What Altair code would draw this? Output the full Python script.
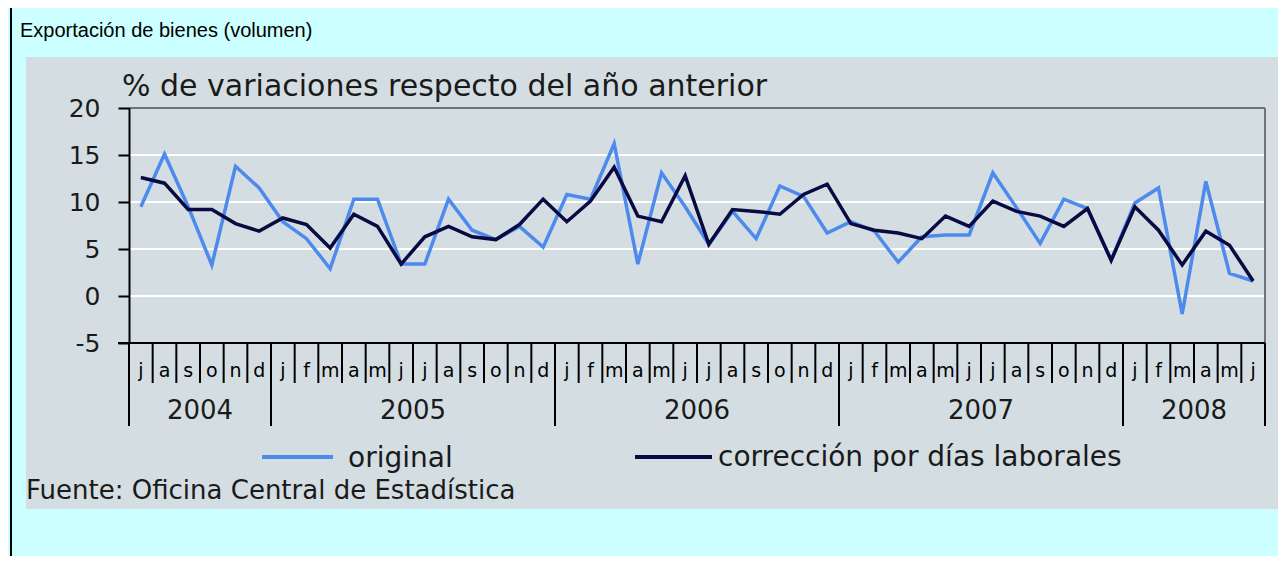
import altair as alt
import pandas as pd

# ---------------- data ----------------
months = list("jasond") + list("jfmamjjasond") * 3 + list("jfmamj")
years = ["2004", "2005", "2006", "2007", "2008"]
year_start = [0, 6, 18, 30, 42]
year_end = [6, 18, 30, 42, 48]

original = [9.5, 15.1, 9.5, 3.3, 13.8, 11.5,
            7.9, 6.1, 2.9, 10.3, 10.3, 3.4, 3.4, 10.3, 7.0, 6.0, 7.4, 5.2,
            10.8, 10.3, 16.2, 3.4, 13.1, 9.5, 5.5, 9.0, 6.1, 11.7, 10.6, 6.7,
            7.9, 6.9, 3.6, 6.3, 6.5, 6.5, 13.1, 9.4, 5.6, 10.3, 9.3, 3.8,
            9.9, 11.5, -1.9, 12.2, 2.4, 1.6]
corrected = [12.6, 12.0, 9.2, 9.2, 7.7, 6.9,
             8.3, 7.6, 5.1, 8.7, 7.4, 3.4, 6.3, 7.4, 6.3, 6.0, 7.6, 10.3,
             7.9, 10.1, 13.7, 8.5, 7.9, 12.8, 5.5, 9.2, 9.0, 8.7, 10.8, 11.9,
             7.7, 7.0, 6.7, 6.1, 8.5, 7.4, 10.1, 9.0, 8.5, 7.4, 9.3, 3.8,
             9.5, 7.0, 3.3, 6.9, 5.4, 1.6]

y_ticks = [-5, 0, 5, 10, 15, 20]
grid_vals = [0, 5, 10, 15]

title_text = "Exportación de bienes (volumen)"
ytitle_text = "% de variaciones respecto del año anterior"
legend_names = ["original", "corrección por días laborales"]
source_text = "Fuente: Oficina Central de Estadística"

# ---------------- styling ----------------
W, H = 1136, 235
FONT = "DejaVu Sans"
CYAN = "#CCFFFF"
PANEL = "#D4DEE2"
C_ORIG = "#4D8AEE"
C_CORR = "#0A0A42"
TXT = "#1a1a1a"

n = len(months)
series_df = pd.DataFrame({
    "pos": [i + 0.5 for i in range(n)],
    "original": original,
    "corr": corrected,
})
month_df = pd.DataFrame({"pos": [i + 0.5 for i in range(n)], "m": months})
sep_df = pd.DataFrame({"b": list(range(n + 1))})
ysep_df = pd.DataFrame({"b": year_start + [year_end[-1]]})
year_df = pd.DataFrame({"pos": [(s + e) / 2 for s, e in zip(year_start, year_end)], "y": years})
grid_df = pd.DataFrame({"v": grid_vals})
one = pd.DataFrame({"k": [0]})

xs = alt.Scale(domain=[0, 48], nice=False, zero=False)
ys = alt.Scale(domain=[-5, 20], nice=False, zero=False)
yaxis = alt.Axis(values=y_ticks, title=None, grid=False, domainColor="black",
                 domainWidth=2, tickColor="black", tickWidth=2, tickSize=11,
                 labelFont=FONT, labelFontSize=25, labelColor=TXT,
                 labelPadding=18, zindex=1, labelExpr="datum.value + ''")

panel = alt.Chart(one).mark_rect(color=PANEL).encode(
    x=alt.value(-103), x2=alt.value(W + 40), y=alt.value(-51), y2=alt.value(401))

left_border = alt.Chart(one).mark_rule(color="black", strokeWidth=2).encode(
    x=alt.value(-118), y=alt.value(-100), y2=alt.value(H + 213))

grid = alt.Chart(grid_df).mark_rule(color="white", strokeWidth=2).encode(
    y=alt.Y("v:Q", scale=ys, axis=yaxis), x=alt.value(0), x2=alt.value(W))

frame_top = alt.Chart(one).mark_rule(color="#6b7378", strokeWidth=2).encode(
    x=alt.value(0), x2=alt.value(W), y=alt.value(0))
frame_right = alt.Chart(one).mark_rule(color="#6b7378", strokeWidth=2).encode(
    x=alt.value(W), y=alt.value(0), y2=alt.value(H))

line_o = alt.Chart(series_df).mark_line(color=C_ORIG, strokeWidth=3.5).encode(
    x=alt.X("pos:Q", scale=xs, axis=None),
    y=alt.Y("original:Q", scale=ys, axis=yaxis))
line_c = alt.Chart(series_df).mark_line(color=C_CORR, strokeWidth=3.5).encode(
    x=alt.X("pos:Q", scale=xs, axis=None),
    y=alt.Y("corr:Q", scale=ys, axis=yaxis))

bottom_axis = alt.Chart(one).mark_rule(color="black", strokeWidth=2).encode(
    x=alt.value(-11), x2=alt.value(W), y=alt.value(H))

msep = alt.Chart(sep_df).mark_rule(color="black", strokeWidth=2).encode(
    x=alt.X("b:Q", scale=xs, axis=None), y=alt.value(H), y2=alt.value(H + 40))
ysep = alt.Chart(ysep_df).mark_rule(color="black", strokeWidth=2).encode(
    x=alt.X("b:Q", scale=xs, axis=None), y=alt.value(H), y2=alt.value(H + 83))

mlab = alt.Chart(month_df).mark_text(font=FONT, fontSize=19, color="black",
                                     baseline="alphabetic", align="center").encode(
    x=alt.X("pos:Q", scale=xs, axis=None), y=alt.value(269), text="m:N")
ylab = alt.Chart(year_df).mark_text(font=FONT, fontSize=26, color=TXT,
                                    baseline="alphabetic", align="center").encode(
    x=alt.X("pos:Q", scale=xs, axis=None), y=alt.value(311), text="y:N")

title = alt.Chart(one).mark_text(text=title_text, font="Liberation Sans", fontSize=20,
                                 color="black", align="left", baseline="alphabetic").encode(
    x=alt.value(-109), y=alt.value(-71))
ytitle = alt.Chart(one).mark_text(text=ytitle_text, font=FONT, fontSize=30,
                                  color=TXT, align="left", baseline="alphabetic").encode(
    x=alt.value(-7), y=alt.value(-12))

leg_o = alt.Chart(one).mark_rule(color=C_ORIG, strokeWidth=4).encode(
    x=alt.value(133), x2=alt.value(204), y=alt.value(349))
leg_c = alt.Chart(one).mark_rule(color=C_CORR, strokeWidth=4).encode(
    x=alt.value(506), x2=alt.value(583), y=alt.value(349))
leg_ot = alt.Chart(one).mark_text(text=legend_names[0], font=FONT, fontSize=28,
                                  color=TXT, align="left", baseline="alphabetic").encode(
    x=alt.value(219), y=alt.value(359))
leg_ct = alt.Chart(one).mark_text(text=legend_names[1], font=FONT, fontSize=28,
                                  color=TXT, align="left", baseline="alphabetic").encode(
    x=alt.value(589), y=alt.value(358))

source = alt.Chart(one).mark_text(text=source_text, font=FONT, fontSize=26,
                                  color=TXT, align="left", baseline="alphabetic").encode(
    x=alt.value(-103), y=alt.value(391))

chart = alt.layer(
    panel, left_border, grid, frame_top, frame_right, line_o, line_c,
    bottom_axis, msep, ysep, mlab, ylab, title, ytitle,
    leg_o, leg_c, leg_ot, leg_ct, source,
).properties(
    width=W, height=H,
    padding={"left": 121, "top": 100, "right": 13, "bottom": 213},
    autosize=alt.AutoSizeParams(type="none"),
    background=CYAN,
).configure_view(stroke=None)

chart.save("out.html", embed_options={"renderer": "svg", "actions": False})
